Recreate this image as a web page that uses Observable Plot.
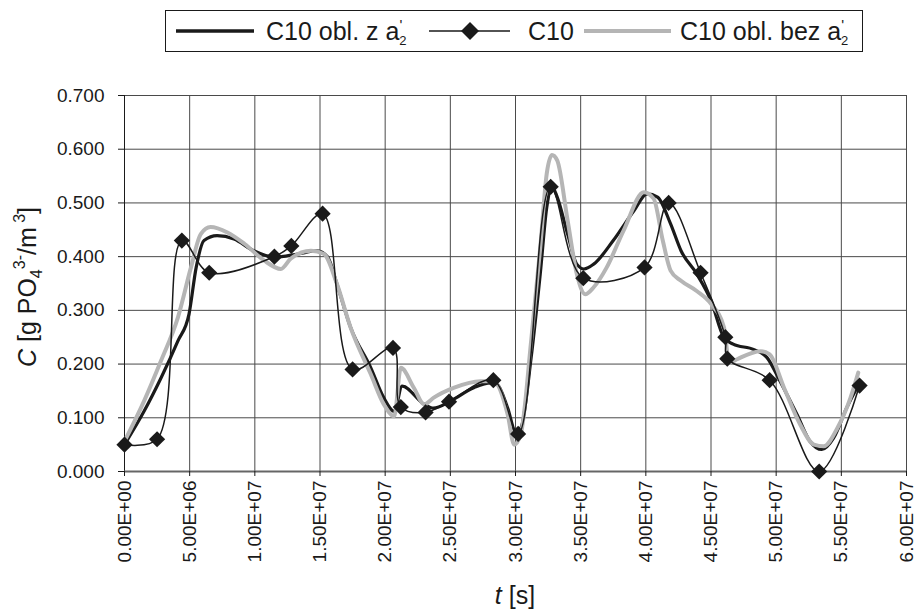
<!DOCTYPE html>
<html>
<head>
<meta charset="utf-8">
<script src="https://cdn.jsdelivr.net/npm/d3@7"></script>
<script src="https://cdn.jsdelivr.net/npm/@observablehq/plot@0.6"></script>
<style>
  html, body { margin: 0; padding: 0; background: #fff; }
  #wrap { position: relative; width: 916px; height: 611px; font-family: "Liberation Sans", Arial, sans-serif; }
  #wrap > svg { position: absolute; left: 0; top: 0; }
  #overlay { pointer-events: none; }
</style>
</head>
<body>
<div id="wrap"></div>
<script>
// ---- data ----
const xTicks = [0, 5e6, 1e7, 1.5e7, 2e7, 2.5e7, 3e7, 3.5e7, 4e7, 4.5e7, 5e7, 5.5e7, 6e7];
const yTicks = [0, 0.1, 0.2, 0.3, 0.4, 0.5, 0.6, 0.7];

const seriesNames = ["C10 obl. z a2'", "C10", "C10 obl. bez a2'"];

// measured C10 (diamonds)
const measT = [0, 2.5e6, 4.4e6, 6.5e6, 11.5e6, 12.8e6, 15.2e6, 17.5e6, 20.6e6, 21.2e6, 23.1e6, 24.9e6,
  28.3e6, 30.2e6, 32.7e6, 35.2e6, 39.9e6, 41.75e6, 44.2e6, 46.1e6, 46.25e6, 49.5e6, 53.3e6, 56.4e6];
const measC = [0.05, 0.06, 0.43, 0.37, 0.40, 0.42, 0.48, 0.19, 0.23, 0.12, 0.11, 0.13,
  0.17, 0.07, 0.53, 0.36, 0.38, 0.50, 0.37, 0.25, 0.21, 0.17, 0.00, 0.16];

// model "C10 obl. z a2'" (thick black)
const withT = [0, 1.5e6, 2.8e6, 4.1e6, 4.95e6, 5.5e6, 6.1e6, 7.1e6, 8.4e6, 9.9e6, 11.5e6, 13.3e6, 14.8e6,
  15.6e6, 16.3e6, 17.35e6, 18.9e6, 19.9e6, 20.7e6, 21.3e6, 23.0e6, 23.7e6, 25.0e6, 26.8e6, 28.1e6, 28.6e6,
  29.4e6, 30.0e6, 30.4e6, 31.2e6, 31.9e6, 32.4e6, 32.8e6, 33.2e6, 34.0e6, 34.7e6, 35.25e6, 36.0e6, 37.5e6,
  39.1e6, 40.1e6, 40.9e6, 41.9e6, 42.7e6, 43.9e6, 45.0e6, 46.0e6, 46.7e6, 48.3e6, 49.3e6, 50.3e6, 51.6e6,
  52.6e6, 53.5e6, 54.4e6, 55.4e6, 56.2e6];
const withC = [0.05, 0.112, 0.174, 0.243, 0.293, 0.380, 0.430, 0.439, 0.433, 0.411, 0.399, 0.405, 0.411,
  0.399, 0.349, 0.268, 0.193, 0.137, 0.112, 0.159, 0.125, 0.118, 0.131, 0.156, 0.165, 0.162,
  0.118, 0.075, 0.081, 0.212, 0.368, 0.492, 0.530, 0.511, 0.442, 0.386, 0.377, 0.386, 0.430,
  0.486, 0.517, 0.511, 0.461, 0.411, 0.368, 0.318, 0.249, 0.237, 0.227, 0.212, 0.168, 0.106,
  0.056, 0.041, 0.062, 0.118, 0.156];

// model "C10 obl. bez a2'" (thick grey)
const woT = [0, 1.5e6, 2.8e6, 4.1e6, 5.1e6, 5.85e6, 6.6e6, 7.9e6, 9.2e6, 10.7e6, 12.0e6, 12.75e6, 14.3e6,
  15.3e6, 16.3e6, 17.35e6, 18.9e6, 19.9e6, 20.7e6, 21.2e6, 22.2e6, 23.0e6, 23.7e6, 25.3e6, 27.3e6, 28.3e6,
  29.4e6, 29.9e6, 30.4e6, 31.2e6, 31.9e6, 32.4e6, 32.8e6, 33.2e6, 34.0e6, 34.7e6, 35.35e6, 36.0e6, 37.0e6,
  38.3e6, 39.85e6, 40.6e6, 41.3e6, 41.9e6, 42.7e6, 43.9e6, 45.0e6, 46.0e6, 46.4e6, 47.0e6, 48.8e6, 49.5e6,
  50.6e6, 51.85e6, 52.9e6, 53.65e6, 54.7e6, 55.7e6, 56.3e6];
const woC = [0.056, 0.131, 0.206, 0.287, 0.380, 0.442, 0.455, 0.445, 0.424, 0.393, 0.377, 0.396, 0.411,
  0.405, 0.349, 0.268, 0.181, 0.125, 0.103, 0.193, 0.156, 0.125, 0.137, 0.156, 0.168, 0.168,
  0.106, 0.050, 0.069, 0.243, 0.417, 0.555, 0.589, 0.579, 0.467, 0.368, 0.330, 0.343, 0.380,
  0.449, 0.520, 0.508, 0.430, 0.374, 0.355, 0.336, 0.312, 0.268, 0.202, 0.209, 0.224, 0.218,
  0.156, 0.087, 0.050, 0.047, 0.081, 0.137, 0.184];

// ---- tables built from the arrays ----
const meas = measT.map((t, i) => ({t, c: measC[i]}));
const withA = withT.map((t, i) => ({t, c: withC[i]}));
const woA = woT.map((t, i) => ({t, c: woC[i]}));

function sci(d) {
  if (d === 0) return "0.00E+00";
  const e = Math.floor(Math.log10(d) + 1e-9);
  const m = d / Math.pow(10, e);
  return m.toFixed(2) + "E+" + String(e).padStart(2, "0");
}

const FONT = "'Liberation Sans', Arial, sans-serif";
const GRID = "#4a4a4a";

const chart = Plot.plot({
  width: 916,
  height: 611,
  marginLeft: 124,
  marginRight: 10,
  marginTop: 95,
  marginBottom: 140,
  style: {fontFamily: FONT, fontSize: "19px", color: "#1a1a1a", background: "transparent"},
  x: {domain: [0, 6e7]},
  y: {domain: [0, 0.7]},
  marks: [
    Plot.gridX(xTicks, {stroke: GRID, strokeOpacity: 1, strokeWidth: 1}),
    Plot.gridY(yTicks, {stroke: GRID, strokeOpacity: 1, strokeWidth: 1}),
    Plot.ruleX([0], {stroke: "#1a1a1a", strokeWidth: 1}),
    Plot.ruleY([0], {stroke: "#666", strokeWidth: 2}),
    Plot.axisY({ticks: yTicks, tickFormat: d3.format(".3f"), tickSize: 6, tickPadding: 14,
      label: null, fontSize: 19, stroke: "#1a1a1a"}),
    Plot.axisX({ticks: xTicks, tickFormat: sci, tickRotate: -90, tickSize: 5, tickPadding: 4,
      label: null, fontSize: 19, stroke: "#1a1a1a"}),
    Plot.line(withA, {x: "t", y: "c", stroke: "#1a1a1a", strokeWidth: 3.2, curve: "monotone-x"}),
    Plot.line(woA, {x: "t", y: "c", stroke: "#b5b5b5", strokeWidth: 4, curve: "monotone-x"}),
    Plot.line(meas, {x: "t", y: "c", stroke: "#1a1a1a", strokeWidth: 1.5, curve: "catmull-rom"}),
    Plot.dot(meas, {x: "t", y: "c", symbol: "diamond2", r: 7.3, fill: "#1a1a1a", stroke: "none"})
  ]
});

const wrap = document.getElementById("wrap");
wrap.appendChild(chart);

// ---- overlay: legend and axis titles (real text) ----
const NS = "http://www.w3.org/2000/svg";
const ov = document.createElementNS(NS, "svg");
ov.setAttribute("id", "overlay");
ov.setAttribute("width", 916);
ov.setAttribute("height", 611);
ov.setAttribute("font-family", FONT);
ov.innerHTML = `
  <rect x="165.5" y="10.5" width="697" height="41" fill="#fff" stroke="#1a1a1a" stroke-width="1"/>
  <line x1="176" y1="31" x2="254" y2="31" stroke="#1a1a1a" stroke-width="3.5"/>
  <text x="266" y="40" font-size="25" fill="#1a1a1a">${seriesNames[0].slice(0, -2)}<tspan font-size="15" dy="-10">'</tspan><tspan font-size="13" dx="-3" dy="15">2</tspan></text>
  <line x1="429" y1="31" x2="510" y2="31" stroke="#1a1a1a" stroke-width="1.5"/>
  <path d="M470,22 L479,31 L470,40 L461,31 Z" fill="#1a1a1a"/>
  <text x="528" y="40" font-size="25" fill="#1a1a1a">${seriesNames[1]}</text>
  <line x1="584" y1="31" x2="671" y2="31" stroke="#b5b5b5" stroke-width="4"/>
  <text x="680" y="40" font-size="25" fill="#1a1a1a">${seriesNames[2].slice(0, -2)}<tspan font-size="15" dy="-10">'</tspan><tspan font-size="13" dx="-3" dy="15">2</tspan></text>
  <text transform="translate(36,287) rotate(-90)" text-anchor="middle" font-size="25" fill="#1a1a1a"><tspan font-style="italic">C</tspan> [g PO<tspan font-size="16" dy="6">4</tspan><tspan font-size="16" dy="-17">3-</tspan><tspan dy="11">/m</tspan><tspan font-size="16" dy="-11"> 3</tspan><tspan dy="11">]</tspan></text>
  <text x="515" y="604" text-anchor="middle" font-size="25" fill="#1a1a1a"><tspan font-style="italic">t</tspan> [s]</text>
`;
wrap.appendChild(ov);
</script>
</body>
</html>
